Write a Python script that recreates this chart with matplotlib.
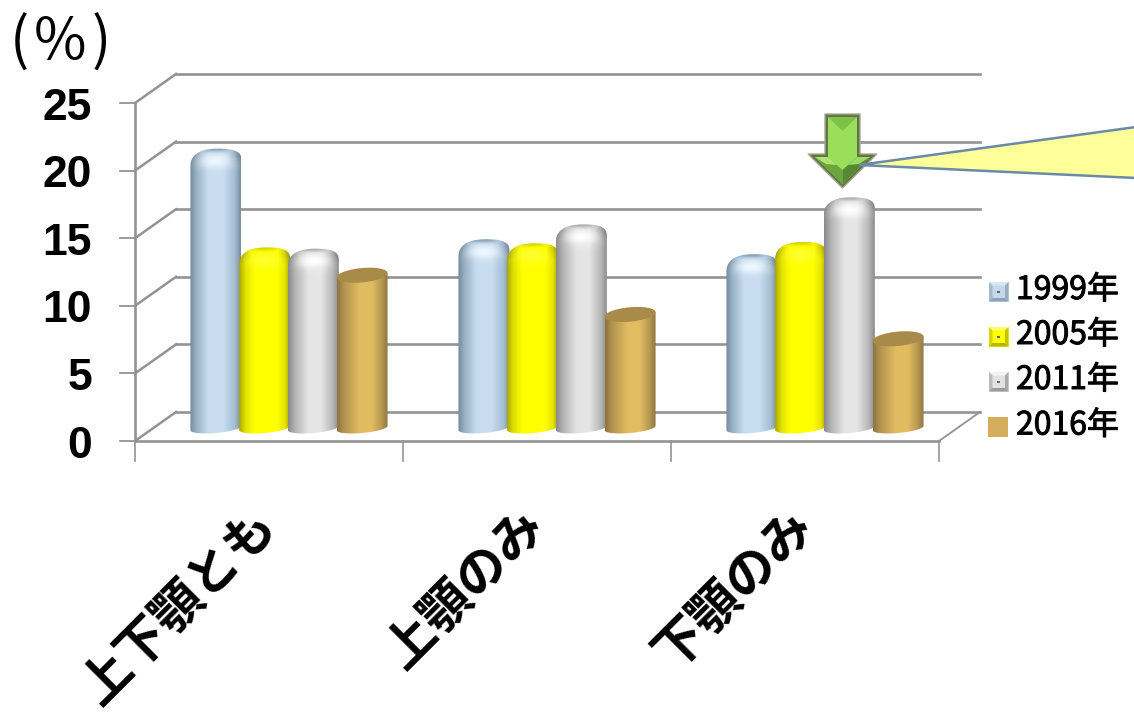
import numpy as np
import matplotlib
matplotlib.use("Agg")
import matplotlib.pyplot as plt
import matplotlib.patheffects as pe
from matplotlib.path import Path
from matplotlib.patches import PathPatch, Polygon, Rectangle

plt.rcParams['font.family'] = ['Noto Sans CJK JP', 'DejaVu Sans']

categories = ["上下顎とも", "上顎のみ", "下顎のみ"]
years = ["1999年", "2005年", "2011年", "2016年"]
values_1999 = [20.2, 13.5, 12.4]
values_2005 = [12.9, 13.2, 13.3]
values_2011 = [12.8, 14.6, 16.6]
values_2016 = [11.3, 8.4, 6.6]
y_ticks = [0, 5, 10, 15, 20, 25]

W, H = 1134, 714
PX_X = 268.0      # pixels per category
PX_Y = 13.52      # pixels per percentage point
X0_PX = 289.0     # pixel x of first category centre (bar plane)
Y0_PX = 428.0     # pixel y of zero (bar plane)

fig = plt.figure(figsize=(W / 100, H / 100), dpi=100, facecolor="white")
ax = fig.add_axes([0, 0, 1, 1])
ax.axis("off")


def dx(p):
    return p / PX_X


def dy(p):
    return p / PX_Y


# Perspective offsets of the front and back walls relative to the bar plane
FRONT_X, FRONT_Y = dx(-20), dy(-13)
BACK_X, BACK_Y = dx(21), dy(16)
GRID = "#939393"

x_left = -0.5 + FRONT_X
x_right = 2.5 + FRONT_X
for v in y_ticks:
    yf, yb = v + FRONT_Y, v + BACK_Y
    ax.plot([x_left, x_left + BACK_X - FRONT_X], [yf, yb], color=GRID, lw=1.8, zorder=1)
    ax.plot([x_left + BACK_X - FRONT_X, x_right + BACK_X - FRONT_X], [yb, yb],
            color=GRID, lw=1.9, zorder=1)
    ax.plot([x_left - dx(15), x_left], [yf, yf], color=GRID, lw=1.3, zorder=1)
    ax.text(x_left - dx(43), yf - dy(5), str(v), ha="right", va="center", fontsize=32,
            fontweight="bold", family=["Liberation Sans"], color="black")
ax.plot([x_left, x_left], [FRONT_Y, 25 + FRONT_Y], color=GRID, lw=1.9, zorder=1)
ax.plot([x_left, x_right], [FRONT_Y, FRONT_Y], color=GRID, lw=1.9, zorder=1)
ax.plot([x_right, x_right + BACK_X - FRONT_X], [FRONT_Y, BACK_Y], color=GRID, lw=1.3, zorder=1)
for i in range(4):
    xt = -0.5 + i + FRONT_X
    ax.plot([xt, xt], [FRONT_Y, FRONT_Y - dy(20)], color=GRID, lw=1.2, zorder=1)

for i, name in enumerate(categories):
    ax.text(i + FRONT_X, FRONT_Y - dy(77), name, rotation=45, rotation_mode="anchor",
            ha="right", va="center", fontsize=36.4, fontweight="bold", color="black")

BAR_STEP = 48.7 / PX_X
BAR_W = 51 / PX_X

# Horizontal shading stops and cap tone per series
styles = [
    dict(stops=[(0, "#73899b"), (.12, "#98b0c4"), (.35, "#c6dcef"), (.65, "#c8ddf0"), (.88, "#a5bed3"), (1, "#788ea0")],
         cap="#8ea5b7", glow="#eef8ff", round=True),
    dict(stops=[(0, "#a8a800"), (.12, "#e0e000"), (.3, "#ffff00"), (.75, "#ffff00"), (.9, "#e6e600"), (1, "#adad00")],
         cap="#d9d900", glow="#ffff30", round=True),
    dict(stops=[(0, "#8a8a8a"), (.14, "#b4b4b4"), (.4, "#e4e4e4"), (.65, "#e6e6e6"), (.88, "#b8b8b8"), (1, "#8c8c8c")],
         cap="#b0b0b0", glow="#ffffff", round=True),
    dict(stops=[(0, "#8c7240"), (.14, "#b39550"), (.45, "#e2bc60"), (.68, "#e3bd62"), (.88, "#b69850"), (1, "#907544")],
         cap="#a98b49", glow=None, round=False),
]

TILT = dy(2.2)
BASE_MINOR = dy(5.0)
CAP_MINOR = dy(7.2)


def rgb(c):
    return np.array(matplotlib.colors.to_rgb(c))


def shade(stops, n=120):
    t = np.linspace(0, 1, n)
    pos = [s[0] for s in stops]
    cols = np.array([rgb(s[1]) for s in stops])
    return np.stack([np.interp(t, pos, cols[:, c]) for c in range(3)], axis=1)


def bar_outline(xc, top, style):
    """Closed cylinder silhouette in data coordinates, with a tilted elliptical base."""
    hw = BAR_W / 2
    l, r = xc - hw, xc + hw
    theta = np.linspace(np.pi, 2 * np.pi, 40)
    verts = list(zip(xc + hw * np.cos(theta), BASE_MINOR * np.sin(theta) + TILT * np.cos(theta)))
    codes = [Path.MOVETO] + [Path.LINETO] * (len(verts) - 1)
    if style["round"]:
        # Rounded shoulders rising to a crown slightly left of the bar centre line
        verts += [(r, top - dy(5)), (r, top + dy(3)), (r - dx(6), top + dy(6.3)), (xc + dx(2), top + dy(6.3)),
                  (xc - dx(9), top + dy(6.3)), (l, top + dy(4)), (l, top - dy(11))]
        codes += [Path.LINETO] + [Path.CURVE4] * 6
    else:
        verts += [(r, top + TILT), (l, top - TILT)]
        codes += [Path.LINETO, Path.LINETO]
    verts.append(verts[0])
    codes.append(Path.CLOSEPOLY)
    return Path(verts, codes)


def draw_bar(xc, value, style, z):
    path = bar_outline(xc, value, style)
    patch = PathPatch(path, fc="none", ec="none", transform=ax.transData)
    ax.add_patch(patch)
    hw = BAR_W / 2
    y_lo, y_hi = -dy(8), value + dy(8)
    ny = max(int((y_hi - y_lo) * PX_Y), 2)
    nx = 120
    img = np.tile(shade(style["stops"], nx)[None, :, :], (ny, 1, 1))
    if style["round"]:
        # Bevelled top: soft highlight under the cap and a darker crown above it
        yy = np.linspace(y_hi, y_lo, ny) * PX_Y - value * PX_Y
        xx = np.linspace(-1, 1, nx)
        X, Y = np.meshgrid(xx, yy)
        glow = np.exp(-((X / .62) ** 2) - ((Y + 6.5) / 7.0) ** 2)[..., None]
        img = img * (1 - glow) + rgb(style["glow"]) * glow
        crown = np.exp(-(((X + .05) / .55) ** 4) - ((Y - 5.5) / 2.6) ** 2)[..., None]
        img = img * (1 - crown) + rgb(style["cap"]) * crown
        edge = np.clip((np.abs(X) - .55) / .45, 0, 1) * np.clip((Y + 12) / 12, 0, 1)
        img = img * (1 - .18 * edge[..., None])
    im = ax.imshow(img, extent=[xc - hw, xc + hw, y_lo, y_hi], origin="upper", aspect="auto",
                   zorder=z, interpolation="bilinear")
    im.set_clip_path(patch)
    if not style["round"]:
        theta = np.linspace(0, 2 * np.pi, 80)
        ex = xc + hw * np.cos(theta)
        ey = value + CAP_MINOR * np.sin(theta) + TILT * np.cos(theta)
        ax.fill(ex, ey, color=style["cap"], lw=0, zorder=z + .1)


series = [values_1999, values_2005, values_2011, values_2016]
for j, vals in enumerate(series):
    for i, v in enumerate(vals):
        draw_bar(i + (j - 1.5) * BAR_STEP, v, styles[j], z=3 + j)

ax.set_xlim(-X0_PX / PX_X, (W - X0_PX) / PX_X)
ax.set_ylim((Y0_PX - H) / PX_Y, Y0_PX / PX_Y)

# Overlay in pixel coordinates for annotation shapes and the legend
ov = fig.add_axes([0, 0, 1, 1], facecolor="none")
ov.set_xlim(0, W)
ov.set_ylim(H, 0)
ov.axis("off")

# Unit mark, spaced wider than the font's default parentheses
for ch, xp in zip("(%)", (19, 60, 101)):
    ov.text(xp, 43, ch, ha="center", va="center", fontsize=41, color="black")

# Bevelled green arrow, with the callout wedge laid over its head
ov.add_patch(Polygon([(825, 114), (860, 114), (860, 154), (877, 154), (842.5, 188), (808, 154), (825, 154)],
                     closed=True, fc="#66724c", ec="#a3ad8c", lw=1.0, zorder=6))
ov.add_patch(Polygon([(828, 117), (857, 117), (857, 157), (870, 157), (842.5, 184), (815, 157), (828, 157)],
                     fc="#9ade5a", lw=0, zorder=7))
ov.add_patch(Polygon([(828, 117), (857, 117), (842.5, 131)], fc="#7cc244", lw=0, zorder=8))
ov.add_patch(Polygon([(815, 157), (842.5, 184), (842.5, 170), (828, 157)], fc="#6aa83f", lw=0, zorder=8))
ov.add_patch(Polygon([(870, 157), (842.5, 184), (842.5, 170), (857, 157)], fc="#558a33", lw=0, zorder=8))
ov.add_patch(Polygon([(815, 157), (828, 157), (837, 165), (826, 164)], fc="#aee56f", lw=0, zorder=9))
ov.add_patch(Polygon([(870, 157), (857, 157), (848, 165), (859, 164)], fc="#9ddb5f", lw=0, zorder=9))

ov.add_patch(Polygon([(859, 165), (1136, 127), (1136, 178)], closed=True, fc="#ffff99",
                     ec="#6a8aa8", lw=1.8, zorder=10))

# Legend swatches and labels
legend_y = [291.5, 336.5, 381.5, 426.5]
text_y = [290, 335, 380, 425.5]
swatch_face = ["#c3d8ea", "#ffff00", "#e2e2e2", "#d4ae5c"]
swatch_light = ["#dbe8f3", "#ffff66", "#f2f2f2", "#d4ae5c"]
swatch_dark = ["#8ea4b6", "#b5b500", "#9c9c9c", "#d4ae5c"]
for k, year in enumerate(years):
    x0 = 989 if k < 3 else 988
    y0 = legend_y[k] - 9.5
    s = 19.5
    ov.add_patch(Rectangle((x0, y0), s, s, fc=swatch_face[k], lw=0, zorder=5))
    if k < 3:
        b = 3.5
        ov.add_patch(Polygon([(x0, y0), (x0 + s, y0), (x0 + s - b, y0 + b), (x0 + b, y0 + b)], fc=swatch_light[k], lw=0, zorder=6))
        ov.add_patch(Polygon([(x0, y0), (x0 + b, y0 + b), (x0 + b, y0 + s - b), (x0, y0 + s)], fc=swatch_dark[k], lw=0, alpha=.55, zorder=6))
        ov.add_patch(Polygon([(x0 + s, y0), (x0 + s - b, y0 + b), (x0 + s - b, y0 + s - b), (x0 + s, y0 + s)], fc=swatch_dark[k], lw=0, alpha=.8, zorder=6))
        ov.add_patch(Polygon([(x0, y0 + s), (x0 + b, y0 + s - b), (x0 + s - b, y0 + s - b), (x0 + s, y0 + s)], fc=swatch_dark[k], lw=0, zorder=6))
        ov.add_patch(Rectangle((x0 + 8, legend_y[k] - 1), 3, 2, fc="#5a6a70", lw=0, zorder=7))
    label = ov.text(1016, text_y[k], year, ha="left", va="center", fontsize=23, color="black")
    label.set_path_effects([pe.withStroke(linewidth=0.7, foreground="black")])

fig.savefig("out.png", dpi=100, facecolor="white")
